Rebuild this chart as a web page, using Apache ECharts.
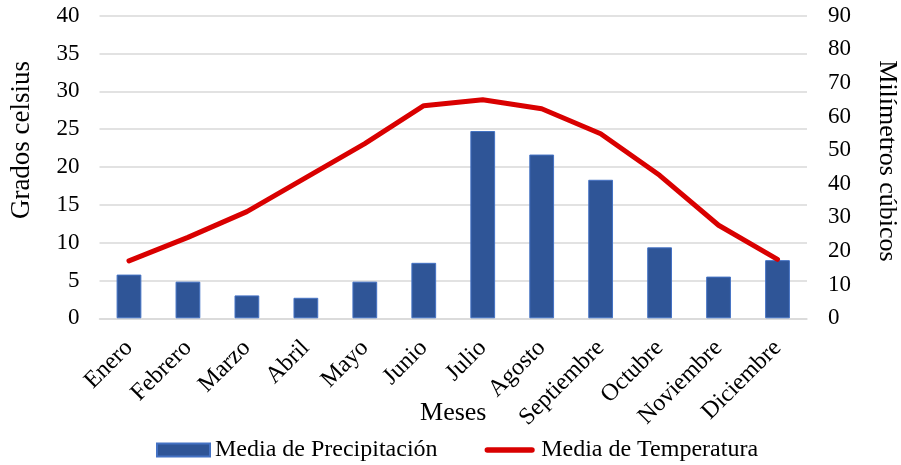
<!DOCTYPE html>
<html>
<head>
<meta charset="utf-8">
<script src="https://cdn.jsdelivr.net/npm/echarts@6/dist/echarts.min.js"></script>
<style>
  html, body { margin: 0; padding: 0; background: #ffffff; }
  #chart { width: 901px; height: 465px; }
</style>
</head>
<body>
<div id="chart"></div>
<script>
// Monthly climate averages
const meses = ['Enero', 'Febrero', 'Marzo', 'Abril', 'Mayo', 'Junio', 'Julio',
  'Agosto', 'Septiembre', 'Octubre', 'Noviembre', 'Diciembre'];
// Precipitation (right axis, mm)
const precipitacion = [13.0, 10.9, 6.8, 6.1, 10.9, 16.5, 55.7, 48.7, 41.2, 21.1, 12.4, 17.3];
// Temperature (left axis, °C)
const temperatura = [7.6, 10.7, 14.1, 18.6, 23.1, 28.1, 28.9, 27.7, 24.4, 18.9, 12.3, 7.8];

const FONT = "'Liberation Serif', 'Times New Roman', serif";
const TEXT = '#000000';
const RED = '#d90000';

// Legend marker for the temperature line: a thick rounded stroke inside a taller box
const LINE_ICON = 'path://M0,0M54,14M3,4L51,4A3,3,0,0,1,51,10L3,10A3,3,0,0,1,3,4Z';

const chart = echarts.init(document.getElementById('chart'), null, { renderer: 'canvas' });

chart.setOption({
  animation: false,
  backgroundColor: '#ffffff',
  textStyle: { fontFamily: FONT, color: TEXT },
  grid: {
    left: 99.5, right: 94, top: 15.7, bottom: 146.7,
    containLabel: false,
    outerBoundsMode: 'none'
  },
  legend: {
    top: 437,
    left: 156,
    padding: 0,
    itemWidth: 53,
    itemHeight: 13,
    itemGap: 47,
    textStyle: { fontFamily: FONT, fontSize: 24, lineHeight: 26, color: TEXT },
    data: [
      { name: 'Media de Precipitación', icon: 'rect' },
      { name: 'Media de Temperatura', icon: LINE_ICON, itemStyle: { color: RED } }
    ]
  },
  xAxis: {
    type: 'category',
    data: meses,
    name: 'Meses',
    nameLocation: 'middle',
    nameGap: 82,
    nameMoveOverlap: false,
    nameTextStyle: { fontFamily: FONT, fontSize: 26, color: TEXT },
    axisLine: { show: true, lineStyle: { color: '#d9d9d9', width: 1.5 } },
    axisTick: { show: false },
    axisLabel: {
      interval: 0,
      rotate: 45,
      margin: 26,
      fontFamily: FONT,
      fontSize: 24,
      color: TEXT
    }
  },
  yAxis: [
    {
      type: 'value',
      min: 0, max: 40, interval: 5,
      name: 'Grados celsius',
      nameLocation: 'middle',
      nameGap: 64,
      nameMoveOverlap: false,
      nameTextStyle: { fontFamily: FONT, fontSize: 27, color: TEXT, padding: [0, 0, 0, 54] },
      axisLine: { show: false },
      axisTick: { show: false },
      axisLabel: { margin: 20, fontFamily: FONT, fontSize: 23, color: TEXT },
      splitLine: { show: true, lineStyle: { color: '#d9d9d9', width: 1.5 } }
    },
    {
      type: 'value',
      min: 0, max: 90, interval: 10,
      name: 'Milímetros cúbicos',
      nameLocation: 'middle',
      nameGap: 67,
      nameMoveOverlap: false,
      nameRotate: -90,
      nameTextStyle: { fontFamily: FONT, fontSize: 26, color: TEXT, padding: [0, 12, 0, 0] },
      axisLine: { show: false },
      axisTick: { show: false },
      axisLabel: { margin: 21, fontFamily: FONT, fontSize: 23, color: TEXT },
      splitLine: { show: false }
    }
  ],
  series: [
    {
      name: 'Media de Precipitación',
      type: 'bar',
      yAxisIndex: 1,
      data: precipitacion,
      barWidth: '42%',
      itemStyle: { color: '#2f5597', borderColor: '#4472c4', borderWidth: 1 }
    },
    {
      name: 'Media de Temperatura',
      type: 'line',
      yAxisIndex: 0,
      data: temperatura,
      showSymbol: false,
      symbol: 'none',
      lineStyle: { color: RED, width: 5, cap: 'round', join: 'round' },
      itemStyle: { color: RED },
      z: 3
    }
  ]
});
</script>
</body>
</html>
